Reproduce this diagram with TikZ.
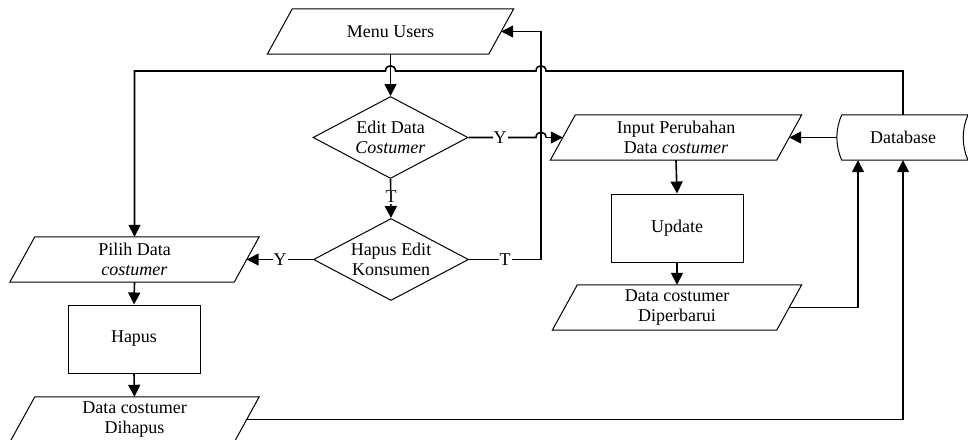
\documentclass[tikz,border=0pt]{standalone}
\usepackage{fontspec}
\setmainfont{Liberation Serif}
\usetikzlibrary{shapes.geometric,arrows.meta}

\tikzset{
  outline/.style={draw, line width=1pt},
  iotext/.style={minimum height=45pt, inner sep=0pt, align=center},
  procbox/.style={outline, minimum width=132pt, minimum height=68pt, inner sep=0pt, align=center},
  decision/.style={outline, diamond, aspect=1.9, minimum width=155pt, minimum height=82pt, inner sep=0pt, align=center},
  flow/.style={draw, line width=1.6pt, -{Triangle[length=12pt,width=12pt]}},
  wire/.style={draw, line width=1.6pt},
  lbl/.style={fill=white, inner sep=1pt},
}

\begin{document}
\begin{tikzpicture}[x=1pt, y=-1pt, font=\fontsize{18}{20}\selectfont]
\useasboundingbox (0,0) rectangle (968,439);

% input/output boxes (drawn as parallelograms around invisible text nodes)
\node[iotext, minimum width=221pt] (menu)   at (390.5,31.5)  {Menu Users};
\node[iotext, minimum width=224pt] (pilih)  at (134.5,259.5) {Pilih Data\\\textit{costumer}};
\node[iotext, minimum width=224pt] (hapusd) at (134.5,419.5) {Data costumer\\Dihapus};
\node[iotext, minimum width=226pt] (input)  at (676,137.5)   {Input Perubahan\\Data \textit{costumer}};
\node[iotext, minimum width=224pt] (diper)  at (677,307.5)   {Data costumer\\Diperbarui};
\foreach \n in {menu,pilih,hapusd,input,diper}{
  \draw[outline] ([xshift=-12.5pt]\n.south west) -- ([xshift=12.5pt]\n.north west)
    -- ([xshift=12.5pt]\n.north east) -- ([xshift=-12.5pt]\n.south east) -- cycle;
}

% processes
\node[procbox] (hapus)  at (134,339) {Hapus};
\node[procbox] (update) at (677,228) {Update};

% decisions
\node[decision] (edit) at (390.5,137.5) {Edit Data\\\textit{Costumer}};
\node[decision] (del)  at (391,259.5)   {Hapus Edit\\Konsumen};

% stored data: both sides are shallow arcs bowing to the left
\node[minimum width=132pt, minimum height=45pt, inner sep=0pt] (db) at (903,137.5) {Database};
\draw[outline] ([xshift=5pt]db.north west) -- ([xshift=65pt]db.north)
  .. controls ([xshift=-7.6pt,yshift=8.3pt]db.east) and ([xshift=-7.6pt,yshift=-8.3pt]db.east) .. ([xshift=65pt]db.south)
  -- ([xshift=5pt]db.south west)
  .. controls ([xshift=-1.6pt,yshift=-8.3pt]db.west) and ([xshift=-1.6pt,yshift=8.3pt]db.west) .. cycle;

% routing points
\coordinate (xa) at (541,0);
\coordinate (yt) at (0,71);
\coordinate (bus1) at (xa |- yt);
\coordinate (bus2) at (menu.south |- yt);
\coordinate (hop)  at (xa |- edit.east);
\coordinate (dbin) at ([xshift=-45pt]db.south);

% main flow
\draw[flow] (menu.south) -- (edit.north);
\draw[flow] (edit.south) -- (del.north);
\node[lbl] (lt1) at (391,197) {T};

\draw[wire] (edit.east) -- ([xshift=-5pt]hop)
  .. controls +(0,-7) and +(0,-7) .. ([xshift=5pt]hop);
\draw[flow] ([xshift=5pt]hop) -- (input.west);
\node[lbl] (ly1) at (500,137.5) {Y};

\draw[flow] (del.east) -- (del.east -| xa) -- (xa |- menu.east) -- (menu.east);
\node[lbl] (lt2) at (505,259.5) {T};

\draw[flow] (del.west) -- (pilih.east);
\node[lbl] (ly2) at (280,259.5) {Y};

\draw[flow] (pilih.south) -- (hapus.north);
\draw[flow] (hapus.south) -- (hapusd.north);

\draw[flow] (input.south) -- (update.north);
\draw[flow] (update.south) -- (diper.north);

% database links
\draw[flow] (db.west) -- (input.east);
\draw[flow] (diper.east) -- (diper.east -| dbin) -- (dbin);
\draw[flow] (hapusd.east) -- (hapusd.east -| db.south) -- (db.south);

% top bus from the database to Pilih Data, hopping over the two verticals
\draw[flow] (db.north) -- (db.north |- yt) -- ([xshift=5pt]bus1)
  .. controls +(0,-7) and +(0,-7) .. ([xshift=-5pt]bus1)
  -- ([xshift=5pt]bus2)
  .. controls +(0,-7) and +(0,-7) .. ([xshift=-5pt]bus2)
  -- (pilih.north |- yt) -- (pilih.north);
\end{tikzpicture}
\end{document}
